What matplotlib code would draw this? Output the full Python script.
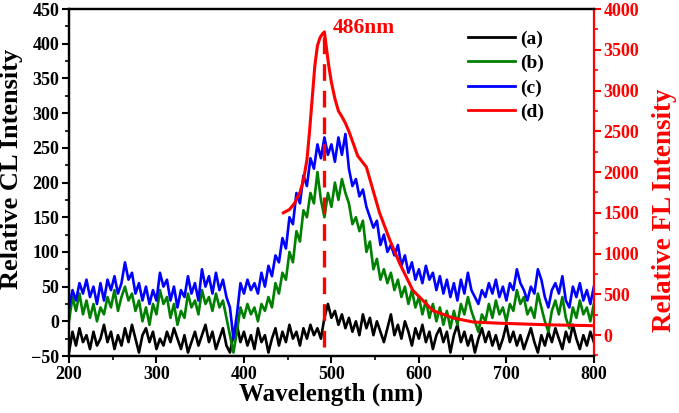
import numpy as np
import matplotlib
matplotlib.use('Agg')
from matplotlib import pyplot as plt
from matplotlib.ticker import MultipleLocator
from matplotlib.lines import Line2D

plt.rcParams['font.family'] = 'Liberation Serif'
plt.rcParams['font.weight'] = 'bold'

# CL spectra, 200-800 nm every 4 nm
wl = np.arange(200, 801, 4)

cl_a = [-45, -15, -35, -10, -30, -20, -40, -15, -35, -25,
        -5, -30, -15, -40, -20, -35, -10, -30, -5, -25,
        -45, -20, -10, -30, -15, -40, -25, -35, -15, -30,
        -10, -25, -40, -20, -45, -30, -15, -35, -20, -5,
        -30, -15, -40, -25, -10, -35, -45, -20, -5, -30,
        -15, -35, -20, -40, -10, -30, -20, -45, -25, -10,
        -35, -15, -30, -5, -25, -15, -35, -10, -25, -5,
        -20, -10, -25, 5, 25, 5, 15, -5, 10, -10,
        5, -15, 0, -20, 10, -10, 5, -20, 0, -15,
        -30, -10, 10, -20, -5, -25, 0, -15, -35, -10,
        -25, -5, -30, -15, -40, -20, -10, -30, -15, -45,
        -20, -5, -30, -15, -35, -20, -45, -25, -10, -30,
        -15, -35, -20, -40, -25, -5, -30, -15, -35, -20,
        -40, -25, -10, -30, -45, -20, -35, -15, -30, -10,
        -25, -40, -15, -30, -5, -25, -40, -20, -35, -15,
        -30]

cl_b = [0, 35, 15, 40, 10, 30, 5, 25, 0, 20,
        10, 35, 20, 45, 15, 35, 50, 30, 40, 15,
        30, 0, 20, -5, 25, 10, 45, 25, 35, 5,
        25, -5, 15, 5, 40, 20, 30, 10, 45, 25,
        35, 15, 40, 20, 30, 5, -20, -45, -15, 20,
        5, 25, 10, 20, 0, 25, 15, 35, 20, 55,
        40, 70, 60, 100, 85, 130, 115, 160, 150, 185,
        170, 215, 175, 150, 185, 165, 200, 175, 205, 185,
        170, 140, 150, 130, 145, 100, 115, 75, 90, 60,
        75, 55, 70, 45, 60, 35, 50, 25, 45, 20,
        35, 10, 30, 5, 25, 0, 20, -5, 15, -10,
        15, -5, 25, 10, 35, 15, 0, -15, 10, 0,
        25, 5, 30, 10, 20, 0, 25, 15, 45, 25,
        35, 10, 20, 5, 40, 20, 0, -15, 15, 30,
        10, 35, 5, -10, 20, 5, 30, 10, 20, 0,
        25]

cl_c = [20, 45, 30, 55, 40, 60, 35, 50, 25, 55,
        30, 60, 45, 65, 40, 55, 85, 60, 70, 40,
        55, 30, 50, 25, 45, 30, 70, 50, 60, 30,
        50, 20, 45, 35, 65, 40, 55, 30, 75, 50,
        65, 40, 70, 45, 60, 35, 20, -25, 10, 55,
        40, 60, 45, 55, 40, 70, 50, 80, 65, 95,
        85, 120, 105, 150, 140, 185, 170, 210, 195, 235,
        220, 255, 235, 265, 240, 255, 230, 265, 240, 270,
        220, 195, 205, 180, 190, 165, 150, 135, 145, 110,
        125, 100, 110, 95, 110, 80, 95, 70, 85, 60,
        75, 55, 80, 60, 70, 45, 65, 40, 60, 35,
        55, 30, 60, 40, 70, 45, 35, 25, 45, 35,
        55, 40, 60, 35, 50, 30, 55, 45, 75, 55,
        45, 30, 50, 40, 75, 60, 35, 20, 45, 55,
        40, 65, 30, 20, 50, 35, 55, 30, 45, 25,
        50]

# FL spectrum (right axis)
fl_wl = [445, 452, 458, 464, 468, 472, 475, 478, 481, 484, 487, 490, 492,
         494, 497, 500, 504, 508, 512, 516, 520, 525, 530, 540, 555, 567,
         578, 593, 616, 639, 662, 693, 750, 800]
fl = [1500, 1540, 1620, 1750, 1900, 2150, 2500, 2900, 3300, 3550, 3650, 3700, 3720,
      3550, 3300, 3100, 2900, 2750, 2680, 2600, 2500, 2350, 2200, 2060, 1500, 1160,
      880, 550, 300, 210, 160, 145, 125, 115]

peak_wl = 492
peak_label = '486nm'
labels = ['(a)', '(b)', '(c)', '(d)']
colors = ['black', 'green', 'blue', 'red']

fig = plt.figure(figsize=(6.79, 4.13), dpi=100)
ax = fig.add_axes([0.1016, 0.138, 0.773, 0.840])
ax2 = ax.twinx()

ax.plot(wl, cl_a, color=colors[0], lw=1.9)
ax.plot(wl, cl_b, color=colors[1], lw=1.9)
ax.plot(wl, cl_c, color=colors[2], lw=1.9)
ax2.plot(fl_wl, fl, color=colors[3], lw=2.2)
ax2.plot([peak_wl, peak_wl], [-150, 3720], color='red', lw=2.4, ls=(0, (5, 3)))
ax2.text(502, 3770, peak_label, color='red', fontsize=15.5, fontweight='bold',
         va='center', ha='left')

ax.set_xlim(200, 800)
ax.set_ylim(-50, 450)
ax2.set_ylim(-257, 4000)

ax.xaxis.set_major_locator(MultipleLocator(100))
ax.xaxis.set_minor_locator(MultipleLocator(50))
ax.yaxis.set_major_locator(MultipleLocator(50))
ax.yaxis.set_minor_locator(MultipleLocator(25))
ax2.yaxis.set_major_locator(MultipleLocator(500))
ax2.yaxis.set_minor_locator(MultipleLocator(250))

for a in (ax, ax2):
    for s in a.spines.values():
        s.set_linewidth(1.6)
ax2.spines['right'].set_color('red')
ax.spines['right'].set_visible(False)

ax.tick_params(which='major', direction='out', length=5, width=1.5, labelsize=13, pad=2)
ax.tick_params(which='minor', direction='out', length=3, width=1.2)
ax.tick_params(top=False, right=False)
ax2.tick_params(which='major', direction='out', length=5, width=1.5, labelsize=13,
                colors='red', pad=2)
ax2.tick_params(which='minor', direction='out', length=3, width=1.2, colors='red')

ax.set_xlabel('Wavelength (nm)', fontsize=18, fontweight='bold', labelpad=0)
ax.set_ylabel('Relative CL Intensity', fontsize=19, fontweight='bold')
ax2.set_ylabel('Relative FL Intensity', fontsize=19.5, fontweight='bold', color='red')
ax.yaxis.set_label_coords(-0.088, 0.54)
ax2.yaxis.set_label_coords(1.11, 0.42)

handles = [Line2D([], [], color=c, lw=2.0) for c in colors]
ax2.legend(handles, labels, loc='upper right', bbox_to_anchor=(0.938, 0.99), frameon=False,
           fontsize=14, handlelength=2.4, handletextpad=0.25, labelspacing=0.35)

plt.savefig('out.png', dpi=100)
